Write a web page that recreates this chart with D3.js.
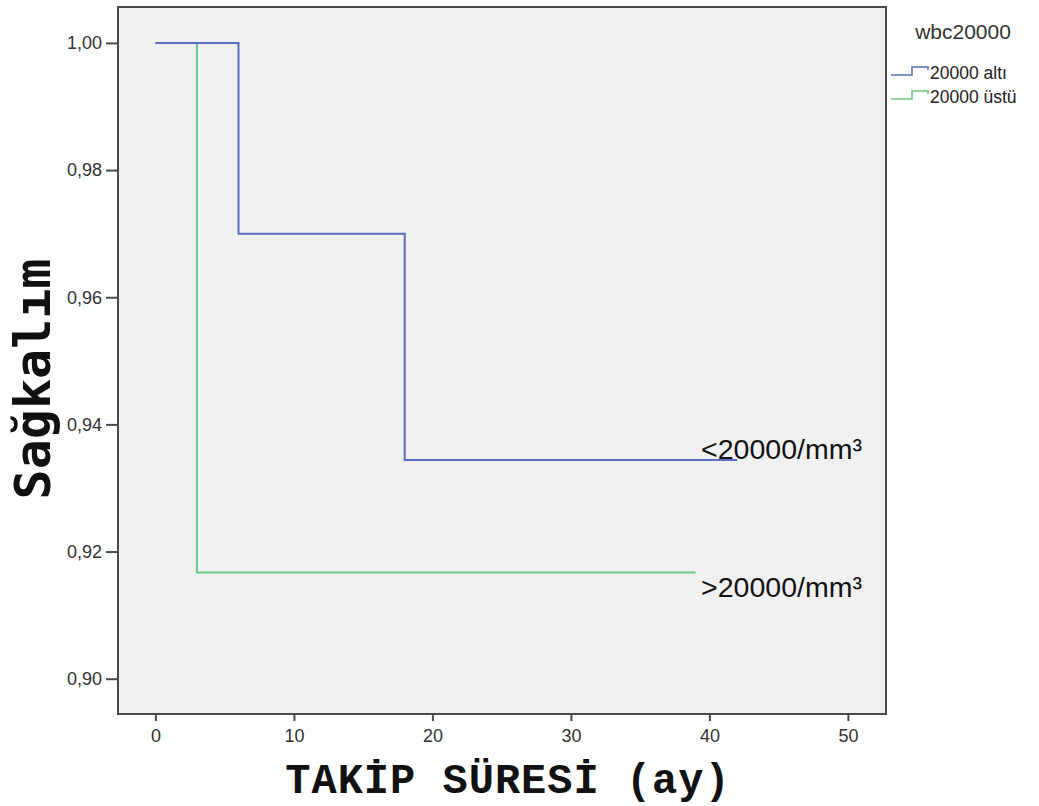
<!DOCTYPE html>
<html>
<head>
<meta charset="utf-8">
<script src="https://cdn.jsdelivr.net/npm/d3@7"></script>
<style>
  body { margin: 0; background: #fff; }
  svg { display: block; }
</style>
</head>
<body>
<svg id="chart" width="1039" height="806"></svg>
<script>
// Kaplan–Meier step curves by white blood cell group
const groups = ["20000 altı", "20000 üstü"];
const groupLabels = ["<20000/mm³", ">20000/mm³"];
const colors = ["#5b6fc2", "#6cc983"];
// time (months) and survival at each step
const lowTimes = [0, 6, 18, 42];
const lowSurv = [1.0, 0.97, 0.9344, 0.9344];
const highTimes = [0, 3, 39];
const highSurv = [1.0, 0.9167, 0.9167];
const xTicks = [0, 10, 20, 30, 40, 50];
const yTicks = [0.90, 0.92, 0.94, 0.96, 0.98, 1.00];

const svg = d3.select("#chart");
const plot = { left: 118, top: 7, right: 886, bottom: 714 };

const x = d3.scaleLinear().domain([-2.7, 52.75]).range([plot.left, plot.right]);
const y = d3.scaleLinear().domain([0.89445, 1.00565]).range([plot.bottom, plot.top]);

// plot background
svg.append("rect")
  .attr("x", plot.left).attr("y", plot.top)
  .attr("width", plot.right - plot.left).attr("height", plot.bottom - plot.top)
  .attr("fill", "#f0f0f0");

// step curves
const step = d3.line().x(d => x(d[0])).y(d => y(d[1])).curve(d3.curveStepAfter);
const series = [
  lowTimes.map((t, i) => [t, lowSurv[i]]),
  highTimes.map((t, i) => [t, highSurv[i]])
];
// draw green underneath blue
[1, 0].forEach(i => {
  svg.append("path")
    .datum(series[i])
    .attr("d", step)
    .attr("fill", "none")
    .attr("stroke", colors[i])
    .attr("stroke-width", 2);
});

// frame
svg.append("rect")
  .attr("x", plot.left).attr("y", plot.top)
  .attr("width", plot.right - plot.left).attr("height", plot.bottom - plot.top)
  .attr("fill", "none").attr("stroke", "#4a4a4a").attr("stroke-width", 2);

// axes
const fmt = d => d3.format(".2f")(d).replace(".", ",");
const yAxis = svg.append("g")
  .attr("transform", `translate(${plot.left},0)`)
  .call(d3.axisLeft(y).tickValues(yTicks).tickFormat(fmt).tickSize(12).tickPadding(4));
const xAxis = svg.append("g")
  .attr("transform", `translate(0,${plot.bottom})`)
  .call(d3.axisBottom(x).tickValues(xTicks).tickSize(7).tickPadding(8));
[yAxis, xAxis].forEach(a => {
  a.select(".domain").remove();
  a.selectAll(".tick line").attr("stroke", "#4a4a4a").attr("stroke-width", 2);
  a.selectAll(".tick text")
    .attr("fill", "#333")
    .style("font-family", "Arial, 'Liberation Sans', sans-serif")
    .style("font-size", "18px");
});

// curve labels
const labelPos = [[lowTimes[lowTimes.length - 1], lowSurv[lowSurv.length - 1]],
                  [highTimes[highTimes.length - 1], highSurv[highSurv.length - 1]]];
svg.append("text")
  .attr("x", x(39.4)).attr("y", y(labelPos[0][1]) - 1)
  .text(groupLabels[0])
  .style("font-family", "Arial, 'Liberation Sans', sans-serif")
  .style("font-size", "28.5px").attr("fill", "#111");
svg.append("text")
  .attr("x", x(39.4)).attr("y", y(labelPos[1][1]) + 24)
  .text(groupLabels[1])
  .style("font-family", "Arial, 'Liberation Sans', sans-serif")
  .style("font-size", "28.5px").attr("fill", "#111");

// axis titles
svg.append("text")
  .attr("transform", "translate(50,379) rotate(-90)")
  .attr("text-anchor", "middle")
  .text("Sağkalım")
  .style("font-family", "'DejaVu Sans Mono', monospace")
  .style("font-size", "50px").style("font-weight", "bold").attr("fill", "#111");
svg.append("text")
  .attr("x", 508).attr("y", 793)
  .attr("text-anchor", "middle")
  .text("TAKİP SÜRESİ (ay)")
  .style("font-family", "'Liberation Mono', 'Courier New', monospace")
  .style("font-size", "42px").style("letter-spacing", "1px")
  .style("font-weight", "bold").attr("fill", "#111");

// legend
const legend = svg.append("g");
legend.append("text")
  .attr("x", 963).attr("y", 39).attr("text-anchor", "middle")
  .text("wbc20000")
  .style("font-family", "Arial, 'Liberation Sans', sans-serif")
  .style("font-size", "21px").attr("fill", "#333");
groups.forEach((g, i) => {
  const yy = 75 + i * 24;
  legend.append("path")
    .attr("d", `M891,${yy} H912 V${yy - 8} H928 V${yy - 5}`)
    .attr("fill", "none").attr("stroke", colors[i]).attr("stroke-width", 1.6);
  legend.append("text")
    .attr("x", 930).attr("y", yy + 4)
    .text(g)
    .style("font-family", "Arial, 'Liberation Sans', sans-serif")
    .style("font-size", "17.5px").attr("fill", "#222");
});
</script>
</body>
</html>
